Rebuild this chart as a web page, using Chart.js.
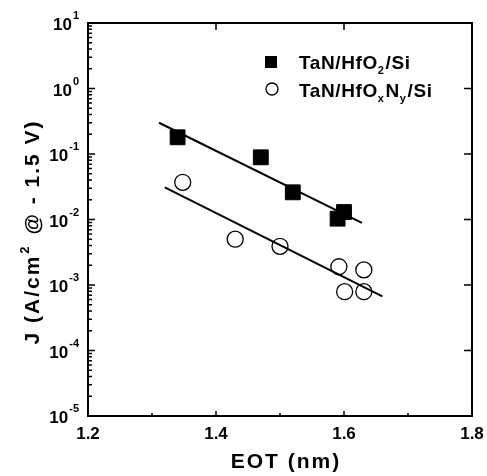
<!DOCTYPE html>
<html>
<head>
<meta charset="utf-8">
<script src="https://cdn.jsdelivr.net/npm/chart.js@4.4.1/dist/chart.umd.min.js"></script>
<style>
  html, body { margin: 0; padding: 0; background: #fff; }
  #wrap { width: 487px; height: 476px; }
</style>
</head>
<body>
<div id="wrap"><canvas id="chart" width="487" height="476"></canvas></div>
<script>
// measured points
const hfoEot = [1.34, 1.47, 1.52, 1.59, 1.60];
const hfoJ = [0.18, 0.089, 0.026, 0.0103, 0.013];
const hfonEot = [1.348, 1.43, 1.50, 1.592, 1.631, 1.601, 1.631];
const hfonJ = [0.037, 0.005, 0.0039, 0.0019, 0.0017, 0.00079, 0.00079];

// fitted lines (end points)
const hfoFitEot = [1.311, 1.628];
const hfoFitJ = [0.30, 0.0089];
const hfonFitEot = [1.32, 1.66];
const hfonFitJ = [0.031, 0.00067];

const xTicks = [1.2, 1.4, 1.6, 1.8];
const xMinor = [1.3, 1.5, 1.7];
const yExps = [-5, -4, -3, -2, -1, 0, 1];

const toPts = (xs, ys) => xs.map((x, i) => ({ x: x, y: ys[i] }));

const F = "'Liberation Sans', Arial, sans-serif";

const decor = {
  id: "decor",
  afterDraw(chart) {
    const ctx = chart.ctx;
    const a = chart.chartArea;
    const xs = chart.scales.x;
    const ys = chart.scales.y;
    ctx.save();
    ctx.strokeStyle = "#000";
    ctx.fillStyle = "#000";

    // frame
    ctx.lineWidth = 2;
    ctx.strokeRect(a.left, a.top, a.right - a.left, a.bottom - a.top);

    // y ticks
    ctx.lineWidth = 1.5;
    ctx.beginPath();
    yExps.forEach((e) => {
      const py = ys.getPixelForValue(Math.pow(10, e));
      ctx.moveTo(a.left, py); ctx.lineTo(a.left + 7, py);
      ctx.moveTo(a.right, py); ctx.lineTo(a.right - 8, py);
      if (e < 1) {
        for (let m = 2; m <= 9; m++) {
          const q = ys.getPixelForValue(m * Math.pow(10, e));
          ctx.moveTo(a.left, q); ctx.lineTo(a.left + 4, q);
        }
      }
    });
    // x ticks
    xTicks.forEach((v) => {
      const px = xs.getPixelForValue(v);
      ctx.moveTo(px, a.bottom); ctx.lineTo(px, a.bottom - 5);
      ctx.moveTo(px, a.top); ctx.lineTo(px, a.top + 7);
    });
    xMinor.forEach((v) => {
      const px = xs.getPixelForValue(v);
      ctx.moveTo(px, a.bottom); ctx.lineTo(px, a.bottom - 3);
    });
    ctx.stroke();

    // x tick labels
    ctx.font = "bold 17px " + F;
    ctx.textAlign = "center";
    ctx.textBaseline = "alphabetic";
    xTicks.forEach((v) => {
      ctx.fillText(v.toFixed(1), xs.getPixelForValue(v), 439);
    });

    // y tick labels 10^e
    yExps.forEach((e) => {
      const py = ys.getPixelForValue(Math.pow(10, e));
      const exp = e < 0 ? "-" + (-e) : String(e);
      ctx.font = "bold 11px " + F;
      const ew = ctx.measureText(exp).width;
      ctx.textAlign = "right";
      ctx.fillText(exp, 79, py - 4);
      ctx.font = "bold 17px " + F;
      ctx.fillText("10", 79 - ew - 1, py + 7);
    });

    // x title
    ctx.font = "bold 21px " + F;
    ctx.letterSpacing = "2px";
    ctx.textAlign = "center";
    ctx.fillText("EOT (nm)", 286, 468);

    // y title with superscript
    ctx.save();
    ctx.translate(39, 232);
    ctx.rotate(-Math.PI / 2);
    const p1 = "J (A/cm";
    const p2 = "2";
    const p3 = " @ - 1.5 V)";
    ctx.font = "bold 21px " + F;
    const w1 = ctx.measureText(p1).width;
    const w3 = ctx.measureText(p3).width;
    ctx.font = "bold 13px " + F;
    const w2 = ctx.measureText(p2).width + 3;
    let x0 = -(w1 + w2 + w3) / 2;
    ctx.textAlign = "left";
    ctx.font = "bold 21px " + F;
    ctx.fillText(p1, x0, 0);
    ctx.font = "bold 13px " + F;
    ctx.fillText(p2, x0 + w1 + 1, -10);
    ctx.font = "bold 21px " + F;
    ctx.fillText(p3, x0 + w1 + w2, 0);
    ctx.restore();

    // legend
    ctx.fillRect(265, 56, 12, 12);
    ctx.lineWidth = 1.3;
    ctx.beginPath();
    ctx.arc(272, 89, 6, 0, Math.PI * 2);
    ctx.stroke();

    const drawRuns = (runs, x, y) => {
      ctx.textAlign = "left";
      runs.forEach((r) => {
        ctx.font = r.sub ? "bold 11px " + F : "bold 19px " + F;
        ctx.fillText(r.t, x, y + (r.sub ? 5 : 0));
        x += ctx.measureText(r.t).width + (r.sub ? 1 : 0);
      });
    };
    ctx.letterSpacing = "0.6px";
    drawRuns([{ t: "TaN/HfO" }, { t: "2", sub: true }, { t: "/Si" }], 299, 69);
    drawRuns([{ t: "TaN/HfO" }, { t: "x", sub: true }, { t: "N" }, { t: "y", sub: true }, { t: "/Si" }], 299, 97);
    ctx.restore();
  }
};

new Chart(document.getElementById("chart"), {
  type: "scatter",
  data: {
    datasets: [
      {
        label: "TaN/HfO2/Si",
        data: toPts(hfoEot, hfoJ),
        pointStyle: "rect",
        pointRadius: 10.5,
        backgroundColor: "#000",
        borderColor: "#000",
        borderWidth: 1
      },
      {
        label: "TaN/HfOxNy/Si",
        data: toPts(hfonEot, hfonJ),
        pointStyle: "circle",
        pointRadius: 8,
        backgroundColor: "rgba(255,255,255,0)",
        borderColor: "#000",
        borderWidth: 1.3
      },
      {
        type: "line",
        data: toPts(hfoFitEot, hfoFitJ),
        borderColor: "#000",
        borderWidth: 2,
        pointRadius: 0,
        fill: false
      },
      {
        type: "line",
        data: toPts(hfonFitEot, hfonFitJ),
        borderColor: "#000",
        borderWidth: 2,
        pointRadius: 0,
        fill: false
      }
    ]
  },
  options: {
    responsive: false,
    animation: false,
    devicePixelRatio: 1,
    layout: { padding: { left: 88, top: 23, right: 15, bottom: 60 } },
    plugins: { legend: { display: false }, tooltip: { enabled: false } },
    scales: {
      x: { type: "linear", min: 1.2, max: 1.8, display: false },
      y: { type: "logarithmic", min: 1e-5, max: 10, display: false }
    }
  },
  plugins: [decor]
});
</script>
</body>
</html>
